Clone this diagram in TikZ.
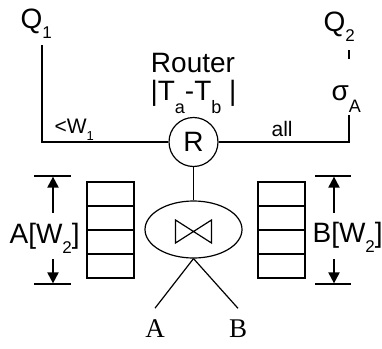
\documentclass[tikz,border=0pt]{standalone}
\usepackage{fontspec}
\setmainfont{Liberation Sans}
\newfontfamily\serifface{Liberation Serif}
\usetikzlibrary{shapes.geometric,arrows.meta}
\newcommand\lsub[3]{\raisebox{-#1pt}{\fontsize{#2}{#2}\selectfont #3}}
\begin{document}
\begin{tikzpicture}[x=1pt,y=-1pt, line width=1.2pt,
  big/.style={font=\fontsize{28}{30}\selectfont, inner sep=0pt},
  small/.style={font=\fontsize{21}{23}\selectfont, inner sep=0pt},
  serifbig/.style={font=\serifface\fontsize{27}{30}\selectfont, inner sep=0pt, outer ysep=11pt},
  cell/.style={draw, minimum width=47pt, minimum height=24pt, inner sep=0pt},
  dimarrow/.style={line width=2pt, -{Triangle[length=11pt,width=11pt]}},
  ]
\useasboundingbox (0,0) rectangle (382,348);

% top labels
\node[big, anchor=base west] (q1) at (20,28) {Q\lsub{10}{17}{1}};
\node[big, anchor=base west] (q2) at (323,31) {Q\lsub{10}{17}{2}};
\node[big, anchor=base] (router) at (193,72) {Router};
\node[big, anchor=base] (tdiff) at (193.5,100) {|T\lsub{13}{18}{a}-T\lsub{13}{18}{b} |};
\node[big, anchor=base west] (sigma) at (331,100) {σ\lsub{12}{18}{A}};

% router and join
\node[big, draw, circle, minimum size=49pt] (r) at (193.5,142) {R};
\node[draw, ellipse, minimum width=97pt, minimum height=57pt, inner sep=0pt] (join) at (193.5,229.5) {};
\draw (join.center) ++(-18,-9.5) -- ++(36,23) -- ++(0,-23) -- ++(-36,23) -- cycle;

% inputs
\node[serifbig, anchor=base] (a) at (155,337) {A};
\node[serifbig, anchor=base] (b) at (238,337) {B};
\draw (join.south) -- (a.north);
\draw (join.south) -- (b.north);
\draw (r.south) -- (join.north);

% outputs
\coordinate (q1foot) at (42,45);
\draw (q1foot) |- (r.west);
\coordinate (q2foot) at (349,50);
\coordinate (sigtop) at (349,59);
\draw (q2foot) -- (sigtop);
\coordinate (sigfoot) at (349,115);
\draw (sigfoot) |- (r.east);
\node[small, anchor=base west] (w1) at (54,133) {<W\lsub{7}{13}{1}};
\node[small, anchor=base west] (all) at (271,136) {all};

% queues
\foreach \i/\y in {1/194,2/218,3/242,4/266} {
  \node[cell] (qa\i) at (110.5,\y) {};
  \node[cell] (qb\i) at (281.5,\y) {};
}

% window dimensions
\node[big, anchor=base west] (alab) at (9,243) {A[W\lsub{10}{17}{2}]};
\node[big, anchor=base west] (blab) at (312,242) {B[W\lsub{10}{17}{2}]};
\coordinate (atl) at (34,176); \coordinate (atr) at (71,176);
\coordinate (abl) at (34,284); \coordinate (abr) at (71,284);
\draw (atl) -- (atr);
\draw (abl) -- (abr);
\coordinate (aup0) at (53,213); \coordinate (aup1) at (53,176.6);
\coordinate (adn0) at (53,259); \coordinate (adn1) at (53,283.4);
\draw[dimarrow] (aup0) -- (aup1);
\draw[dimarrow] (adn0) -- (adn1);
\coordinate (btl) at (315,176); \coordinate (btr) at (351,176);
\coordinate (bbl) at (315,284); \coordinate (bbr) at (351,284);
\draw (btl) -- (btr);
\draw (bbl) -- (bbr);
\coordinate (bup0) at (334,213); \coordinate (bup1) at (334,176.6);
\coordinate (bdn0) at (334,259); \coordinate (bdn1) at (334,283.4);
\draw[dimarrow] (bup0) -- (bup1);
\draw[dimarrow] (bdn0) -- (bdn1);
\end{tikzpicture}
\end{document}
